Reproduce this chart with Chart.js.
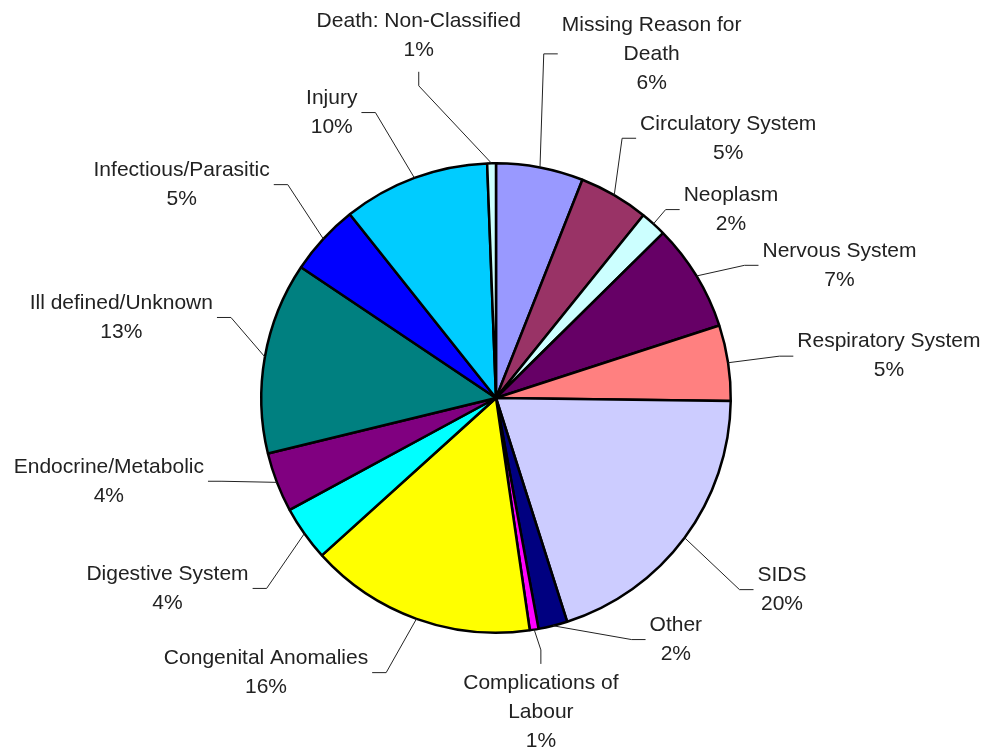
<!DOCTYPE html>
<html>
<head>
<meta charset="utf-8">
<script src="https://cdn.jsdelivr.net/npm/chart.js@4"></script>
<style>
  html, body { margin: 0; padding: 0; background: #fff; }
  canvas { display: block; }
</style>
</head>
<body>
<canvas id="pieChart" width="987" height="754"></canvas>
<script>
// Causes of death, share of total (%), read clockwise from 12 o'clock
const causes = [
    ["Missing Reason for", "Death"],
    ["Circulatory System"],
    ["Neoplasm"],
    ["Nervous System"],
    ["Respiratory System"],
    ["SIDS"],
    ["Other"],
    ["Complications of", "Labour"],
    ["Congenital Anomalies"],
    ["Digestive System"],
    ["Endocrine/Metabolic"],
    ["Ill defined/Unknown"],
    ["Infectious/Parasitic"],
    ["Injury"],
    ["Death: Non-Classified"]
];
const shares = [6.0, 4.8, 1.8, 7.4, 5.2, 19.9, 2.0, 0.6, 15.6, 3.8, 4.1, 13.2, 4.9, 10.1, 0.6];
const sliceColors = [
    "#9999FF", "#993366", "#CCFFFF", "#660066", "#FF8080",
    "#CCCCFF", "#000080", "#FF00FF", "#FFFF00", "#00FFFF",
    "#800080", "#008080", "#0000FF", "#00CCFF", "#CCFFFF"
];

// where each label's leader line bends: [clock angle in degrees, distance in radii]
const labelPlacement = [
    [7.9, 1.48], [25.9, 1.23], [42, 1.08], [61.9, 1.20], [81.6, 1.22],
    [128.2, 1.32], [150.7, 1.18], [169.9, 1.09], [201.8, 1.26], [230.3, 1.27],
    [253.1, 1.22], [286.9, 1.18], [315.7, 1.27], [337.1, 1.32], [346.1, 1.37]
];

const total = shares.reduce((a, b) => a + b, 0);

// draws the outside labels with leader lines
const outsideLabels = {
    id: 'outsideLabels',
    afterDraw(chart) {
        const ctx = chart.ctx;
        const arcs = chart.getDatasetMeta(0).data;
        const tick = 14;
        const lineH = 29;
        ctx.save();
        ctx.font = '21px "Liberation Sans", Arial, sans-serif';
        ctx.textAlign = 'center';
        ctx.textBaseline = 'middle';
        arcs.forEach((arc, i) => {
            const { x, y, outerRadius, startAngle, endAngle } = arc.getProps(['x', 'y', 'outerRadius', 'startAngle', 'endAngle']);
            const mid = (startAngle + endAngle) / 2;
            const ex = x + outerRadius * Math.cos(mid);
            const ey = y + outerRadius * Math.sin(mid);
            const a = (labelPlacement[i][0] - 90) * Math.PI / 180;
            const d = labelPlacement[i][1] * outerRadius;
            const ax = x + d * Math.cos(a);
            const ay = y + d * Math.sin(a);

            const deg = labelPlacement[i][0];
            let side;
            if (deg > 340 || deg < 5) side = 't';
            else if (deg > 165 && deg < 195) side = 'b';
            else side = ax > x ? 'r' : 'l';

            let tx = ax, ty = ay;
            if (side === 'r') tx = ax + tick;
            if (side === 'l') tx = ax - tick;
            if (side === 't') ty = ay - tick;
            if (side === 'b') ty = ay + tick;

            ctx.strokeStyle = '#222';
            ctx.lineWidth = 1;
            ctx.beginPath();
            ctx.moveTo(ex, ey);
            ctx.lineTo(ax, ay);
            ctx.lineTo(tx, ty);
            ctx.stroke();

            const lines = causes[i].concat([Math.round(shares[i] / total * 100) + '%']);
            const w = Math.max(...lines.map(s => ctx.measureText(s).width));
            const h = lines.length * lineH;
            let cx, top;
            if (side === 'r') { cx = tx + 4 + w / 2; top = ty - h / 2; }
            if (side === 'l') { cx = tx - 4 - w / 2; top = ty - h / 2; }
            if (side === 't') { cx = tx; top = ty - 7 - h; }
            if (side === 'b') { cx = tx; top = ty + 5; }
            ctx.fillStyle = '#222';
            lines.forEach((s, k) => {
                ctx.fillText(s, cx, top + lineH * k + lineH / 2);
            });
        });
        ctx.restore();
    }
};

new Chart(document.getElementById('pieChart'), {
    type: 'pie',
    data: {
        labels: causes.map(c => c.join(' ')),
        datasets: [{
            data: shares,
            backgroundColor: sliceColors,
            borderColor: '#000',
            borderWidth: 2.5
        }]
    },
    options: {
        responsive: false,
        animation: false,
        devicePixelRatio: 1,
        events: [],
        layout: { padding: { left: 260, right: 255, top: 162, bottom: 120 } },
        plugins: {
            legend: { display: false },
            tooltip: { enabled: false }
        }
    },
    plugins: [outsideLabels]
});
</script>
</body>
</html>
